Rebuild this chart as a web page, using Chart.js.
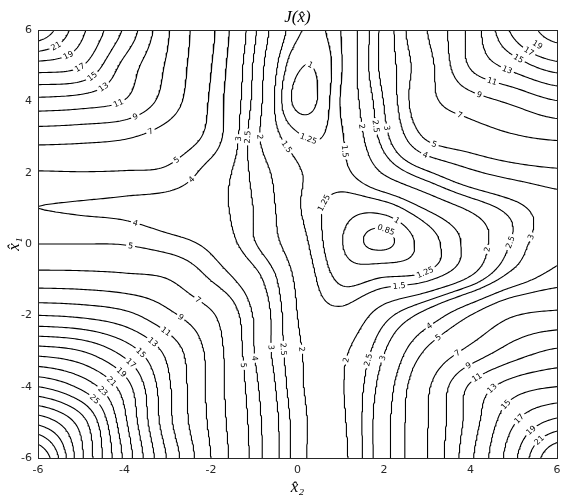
<!DOCTYPE html>
<html>
<head>
<meta charset="utf-8">
<script src="https://cdn.jsdelivr.net/npm/chart.js@4"></script>
<style>
  html, body { margin: 0; padding: 0; background: #fff; }
  #wrap { width: 572px; height: 502px; }
</style>
</head>
<body>
<div id="wrap"><canvas id="c" width="572" height="502"></canvas></div>
<script>
// Grid of J values, rows x1 = 6 .. -6, columns x2 = -6 .. 6.
const x2Grid = [-6, -5, -4, -3, -2, -1, 0, 1, 2, 3, 4, 5, 6];
const x1Grid = [6, 5, 4, 3, 2, 1, 0, -1, -2, -3, -4, -5, -6];
const J = [
  [24.5, 19.5, 14.7, 9.2, 5.3, 2.6, 1.3, 1.5, 3.3, 7, 11.6, 17.6, 23],
  [18.2, 17.1, 12.4, 8.7, 5.05, 2.43, 1.05, 1.46, 3.3, 6.3, 11.2, 13.8, 16.2],
  [12.4, 12, 10.9, 8.1, 4.8, 2.35, 0.92, 1.52, 3.03, 6.4, 8.1, 9.4, 10.9],
  [7.8, 7.6, 7.2, 6.1, 4.6, 2.2, 1.3, 1.45, 2.75, 5.2, 6.0, 6.8, 7.3],
  [4.9, 4.95, 4.9, 4.75, 3.6, 2.37, 1.55, 1.4, 2.05, 2.9, 3.8, 4.4, 4.75],
  [4.0, 3.95, 3.85, 3.6, 3.3, 2.48, 1.55, 1.12, 1.1, 1.55, 2.1, 2.75, 3.5],
  [5.0, 5.0, 4.95, 4.45, 3.75, 2.55, 1.7, 1.02, 0.82, 1.12, 1.65, 2.6, 3.7],
  [8.0, 7.9, 7.6, 7.05, 4.95, 3.3, 1.9, 1.2, 1.3, 1.45, 2.15, 3.5, 4.5],
  [13, 12.6, 11.6, 9.5, 7.3, 3.9, 2.0, 1.6, 2.3, 3.35, 5.0, 6.9, 7.5],
  [20, 19, 16.2, 12.4, 8.3, 4.0, 2.1, 1.9, 2.95, 5.2, 7.55, 9.9, 11.3],
  [27, 24.5, 20, 13.4, 8.4, 4.3, 2.15, 1.95, 3.4, 6.7, 11.3, 14, 15],
  [34.5, 30, 21.5, 13.7, 8.6, 4.5, 2.25, 1.9, 3.6, 6.9, 11.9, 16.8, 19.6],
  [41, 31.5, 22.6, 14.8, 9, 4.6, 2.25, 1.85, 3.6, 7, 12.6, 18.5, 25],
];
const levels = [0.85, 1, 1.25, 1.5, 2, 2.5, 3, 4, 5, 7, 9, 11, 13, 15, 17, 19, 21, 23, 25,
  27, 29, 31, 33, 35, 37, 39];
const labelled = [0.85, 1, 1.25, 1.5, 2, 2.5, 3, 4, 5, 7, 9, 11, 13, 15, 17, 19, 21, 23, 25];
const ticks = [-6, -4, -2, 0, 2, 4, 6];

// Catmull-Rom bicubic read of the grid.
function cell(r, c) {
  r = Math.max(0, Math.min(x1Grid.length - 1, r));
  c = Math.max(0, Math.min(x2Grid.length - 1, c));
  return J[r][c];
}
function cr(p0, p1, p2, p3, t) {
  return p1 + 0.5 * t * (p2 - p0 + t * (2 * p0 - 5 * p1 + 4 * p2 - p3 + t * (3 * (p1 - p2) + p3 - p0)));
}
function value(x2, x1) {
  const fc = x2 - x2Grid[0], fr = x1Grid[0] - x1;
  const c = Math.min(Math.floor(fc), x2Grid.length - 2), r = Math.min(Math.floor(fr), x1Grid.length - 2);
  const tc = fc - c, tr = fr - r;
  const rows = [];
  for (let i = -1; i <= 2; i++) {
    rows.push(cr(cell(r + i, c - 1), cell(r + i, c), cell(r + i, c + 1), cell(r + i, c + 2), tc));
  }
  return cr(rows[0], rows[1], rows[2], rows[3], tr);
}

// Marching squares on a fine sampling, then chain segments into polylines.
const N = 240, step = 12 / N;
const F = [];
for (let j = 0; j <= N; j++) {
  const row = [];
  for (let i = 0; i <= N; i++) row.push(value(-6 + i * step, -6 + j * step));
  F.push(row);
}
function contour(L) {
  const segs = [];
  for (let j = 0; j < N; j++) {
    for (let i = 0; i < N; i++) {
      const v = [F[j][i], F[j][i + 1], F[j + 1][i + 1], F[j + 1][i]];
      const px = [i, i + 1, i + 1, i], py = [j, j, j + 1, j + 1];
      const pts = [];
      for (let k = 0; k < 4; k++) {
        const a = v[k], b = v[(k + 1) % 4];
        if ((a < L) !== (b < L)) {
          const t = (L - a) / (b - a);
          const k2 = (k + 1) % 4;
          pts.push([-6 + (px[k] + t * (px[k2] - px[k])) * step, -6 + (py[k] + t * (py[k2] - py[k])) * step]);
        }
      }
      if (pts.length === 2) segs.push(pts);
      else if (pts.length === 4) { segs.push([pts[0], pts[1]]); segs.push([pts[2], pts[3]]); }
    }
  }
  const key = (p) => p[0].toFixed(6) + ':' + p[1].toFixed(6);
  const adj = new Map();
  segs.forEach((s, idx) => s.forEach((p) => {
    const k = key(p);
    if (!adj.has(k)) adj.set(k, []);
    adj.get(k).push(idx);
  }));
  const used = new Array(segs.length).fill(false);
  const lines = [];
  const walk = (line, p) => {
    for (;;) {
      const nxt = (adj.get(key(p)) || []).find((s) => !used[s]);
      if (nxt === undefined) return;
      used[nxt] = true;
      const s = segs[nxt];
      p = key(s[0]) === key(p) ? s[1] : s[0];
      line.push(p);
    }
  };
  segs.forEach((s, idx) => {
    if (used[idx]) return;
    used[idx] = true;
    const fwd = [s[0], s[1]];
    walk(fwd, s[1]);
    const back = [s[0]];
    walk(back, s[0]);
    lines.push(back.reverse().slice(0, -1).concat(fwd));
  });
  return lines;
}

const contourLines = levels.map((L) => ({ level: L, lines: contour(L) }));
const datasets = contourLines.map(({ level, lines }) => {
  const data = [];
  lines.forEach((ln) => {
    ln.forEach((p) => data.push({ x: p[0], y: p[1] }));
    data.push({ x: NaN, y: NaN });
  });
  return {
    label: String(level), data, showLine: true, spanGaps: false,
    borderColor: '#000', borderWidth: 1.1, pointRadius: 0, borderJoinStyle: 'round',
  };
});

// Inline contour labels, MATLAB style.
const labelPlugin = {
  id: 'labels',
  afterDatasetsDraw(chart) {
    const { ctx, scales: { x, y } } = chart;
    ctx.save();
    ctx.font = '8px "DejaVu Sans"';
    ctx.textAlign = 'center';
    ctx.textBaseline = 'middle';
    contourLines.forEach(({ level, lines }) => {
      if (!labelled.includes(level)) return;
      lines.forEach((ln) => {
        const pix = ln.map((p) => [x.getPixelForValue(p[0]), y.getPixelForValue(p[1])]);
        let total = 0;
        const acc = [0];
        for (let i = 1; i < pix.length; i++) {
          total += Math.hypot(pix[i][0] - pix[i - 1][0], pix[i][1] - pix[i - 1][1]);
          acc.push(total);
        }
        if (total < 40) return;
        const count = Math.max(1, Math.round(total / 230));
        for (let n = 0; n < count; n++) {
          const target = total * (n + 0.5) / count;
          let i = acc.findIndex((a) => a >= target);
          i = Math.max(1, Math.min(pix.length - 2, i));
          const a = pix[i - 1], b = pix[i + 1];
          let ang = Math.atan2(b[1] - a[1], b[0] - a[0]);
          if (ang > Math.PI / 2) ang -= Math.PI;
          if (ang < -Math.PI / 2) ang += Math.PI;
          const txt = String(level);
          const w = ctx.measureText(txt).width + 4;
          ctx.save();
          ctx.translate(pix[i][0], pix[i][1]);
          ctx.rotate(ang);
          ctx.fillStyle = '#fff';
          ctx.fillRect(-w / 2, -4.5, w, 9);
          ctx.fillStyle = '#000';
          ctx.fillText(txt, 0, 0.5);
          ctx.restore();
        }
      });
    });
    // box and title
    const a = chart.chartArea;
    ctx.strokeStyle = '#262626';
    ctx.lineWidth = 1;
    ctx.strokeRect(a.left + 0.5, a.top + 0.5, a.right - a.left, a.bottom - a.top);
    ctx.font = 'italic 17px "Liberation Serif"';
    ctx.fillStyle = '#000';
    ctx.textBaseline = 'alphabetic';
    ctx.fillText('J(x\u0302)', (a.left + a.right) / 2, 22);
    ctx.restore();
  },
};

new Chart(document.getElementById('c'), {
  type: 'scatter',
  data: { datasets },
  options: {
    responsive: false,
    animation: false,
    parsing: false,
    normalized: true,
    layout: { padding: { top: 30, right: 15, left: 0, bottom: 0 } },
    plugins: { legend: { display: false }, tooltip: { enabled: false } },
    scales: {
      x: {
        type: 'linear', min: -6, max: 6,
        afterFit: (s) => { s.height = 44; },
        afterBuildTicks: (s) => { s.ticks = ticks.map((v) => ({ value: v })); },
        grid: { display: false, tickLength: 4 },
        border: { color: '#262626' },
        ticks: { color: '#262626', font: { size: 11, family: '"DejaVu Sans"' }, padding: 2 },
        title: { display: true, text: 'x\u0302\u2082', color: '#000', font: { size: 17, style: 'italic', family: '"Liberation Serif"' }, padding: { top: 0 } },
      },
      y: {
        type: 'linear', min: -6, max: 6,
        afterFit: (s) => { s.width = 38; },
        afterBuildTicks: (s) => { s.ticks = ticks.map((v) => ({ value: v })); },
        grid: { display: false, tickLength: 4 },
        border: { color: '#262626' },
        ticks: { color: '#262626', font: { size: 11, family: '"DejaVu Sans"' }, padding: 2 },
        title: { display: true, text: 'x\u0302\u2081', color: '#000', font: { size: 17, style: 'italic', family: '"Liberation Serif"' }, padding: { bottom: 0 } },
      },
    },
  },
  plugins: [labelPlugin],
});
</script>
</body>
</html>
